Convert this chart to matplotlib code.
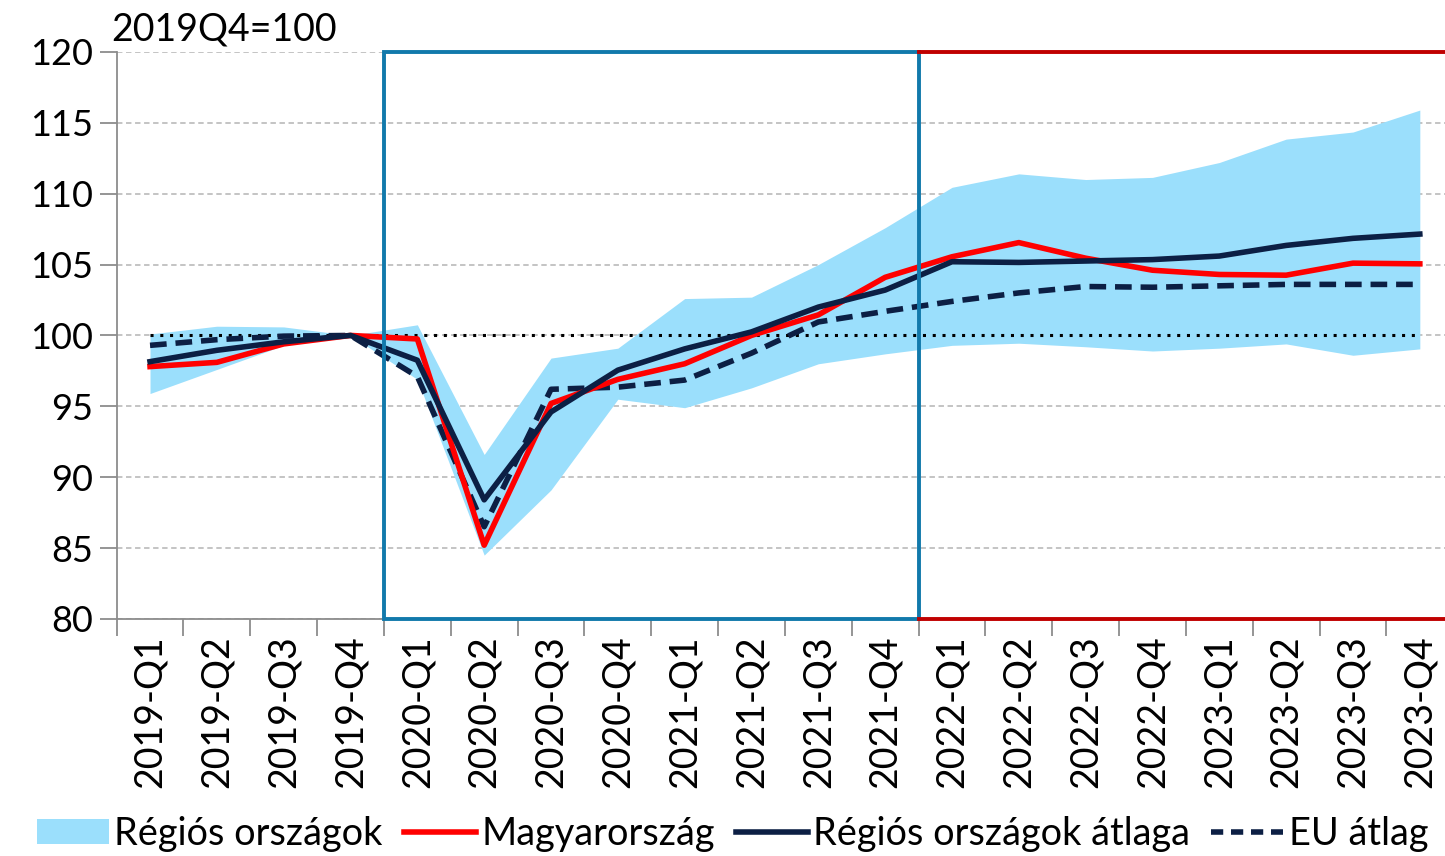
import matplotlib
matplotlib.use('Agg')
import matplotlib.pyplot as plt
from matplotlib.patches import Rectangle, Patch
from matplotlib.lines import Line2D
import numpy as np

plt.rcParams['font.family'] = ['Lato', 'DejaVu Sans']

labels = ['2019-Q1', '2019-Q2', '2019-Q3', '2019-Q4',
          '2020-Q1', '2020-Q2', '2020-Q3', '2020-Q4',
          '2021-Q1', '2021-Q2', '2021-Q3', '2021-Q4',
          '2022-Q1', '2022-Q2', '2022-Q3', '2022-Q4',
          '2023-Q1', '2023-Q2', '2023-Q3', '2023-Q4']

# regiós országok sáv (min, max)
band_low = [95.9, 97.6, 99.3, 100.0, 96.9, 84.5, 89.1, 95.5, 94.9, 96.3,
            98.0, 98.7, 99.3, 99.45, 99.2, 98.9, 99.1, 99.4, 98.6, 99.05]
band_high = [100.1, 100.65, 100.6, 100.0, 100.75, 91.6, 98.4, 99.1, 102.6, 102.7,
             105.0, 107.6, 110.45, 111.4, 111.0, 111.15, 112.2, 113.85, 114.35, 115.9]
magyar = [97.8, 98.1, 99.4, 100.0, 99.75, 85.2, 95.2, 96.9, 98.0, 100.0,
          101.45, 104.1, 105.55, 106.55, 105.45, 104.6, 104.3, 104.25, 105.1, 105.05]
regio_atlag = [98.15, 98.95, 99.55, 100.0, 98.25, 88.4, 94.6, 97.55, 99.05, 100.25,
               102.0, 103.2, 105.2, 105.15, 105.25, 105.35, 105.6, 106.35, 106.85, 107.15]
eu_atlag = [99.3, 99.7, 99.95, 100.0, 97.1, 86.5, 96.2, 96.35, 96.85, 98.75,
            100.95, 101.7, 102.4, 103.0, 103.45, 103.4, 103.5, 103.6, 103.6, 103.6]

x = np.arange(len(labels))
navy = '#0C1F44'

fig = plt.figure(figsize=(14.45, 8.56), dpi=100)
ax = fig.add_axes([0.0807, 0.277, 0.925, 0.6623])

ax.fill_between(x, band_low, band_high, color='#9BDFFC', linewidth=0, zorder=1)
ax.hlines(100, 0, 19, colors='black', linestyles=(0, (1, 2.2)), linewidth=2.2, zorder=2)
ax.plot(x, magyar, color='#FF0000', linewidth=4, zorder=4)
ax.plot(x, regio_atlag, color=navy, linewidth=4, zorder=5)
ax.plot(x, eu_atlag, color=navy, linewidth=4, linestyle=(0, (3, 1.6)), zorder=3)

# időszak keretek
ax.add_patch(Rectangle((3.5, 80), 8, 40, fill=False, edgecolor='#1279AB',
                       linewidth=2.8, zorder=6, clip_on=False))
ax.plot([11.5, 19.5], [120, 120], color='#C00000', linewidth=2.8, zorder=6, clip_on=False)
ax.plot([11.5, 19.5], [80, 80], color='#C00000', linewidth=2.8, zorder=6, clip_on=False)

ax.set_xlim(-0.5, 19.5)
ax.set_ylim(80, 120)
ax.set_yticks(np.arange(80, 121, 5))
ax.yaxis.grid(True, linestyle=(0, (3, 2)), color='#BFBFBF', linewidth=1.3)
ax.set_axisbelow(True)

ax.set_xticks(x)
ax.set_xticklabels(labels, rotation=90, fontsize=27)
ax.set_xticks(np.arange(-0.5, 20, 1), minor=True)
ax.tick_params(axis='x', which='major', length=0, pad=12)
ax.tick_params(axis='x', which='minor', length=12, width=1.3, color='#8C8C8C', direction='out')
ax.tick_params(axis='y', length=12, width=1.3, color='#8C8C8C', labelsize=26, pad=5)

for s in ['top', 'right']:
    ax.spines[s].set_visible(False)
ax.spines['left'].set_color('#8C8C8C')
ax.spines['left'].set_linewidth(1.3)
ax.spines['bottom'].set_color('#8C8C8C')
ax.spines['bottom'].set_linewidth(1.3)

fig.text(0.077, 0.953, '2019Q4=100', fontsize=27, ha='left', va='baseline')

handles = [Patch(facecolor='#9BDFFC', edgecolor='none'),
           Line2D([], [], color='#FF0000', linewidth=4),
           Line2D([], [], color=navy, linewidth=4),
           Line2D([], [], color=navy, linewidth=4, linestyle=(0, (2.2, 1.4)))]
names = ['Régiós országok', 'Magyarország', 'Régiós országok átlaga', 'EU átlag']
fig.legend(handles, names, loc='center', bbox_to_anchor=(0.507, 0.026), ncol=4,
           frameon=False, fontsize=27.3, handlelength=1.9, handleheight=0.65,
           handletextpad=0.15, columnspacing=0.55, borderaxespad=0, borderpad=0)

fig.savefig('out.png', dpi=100)
